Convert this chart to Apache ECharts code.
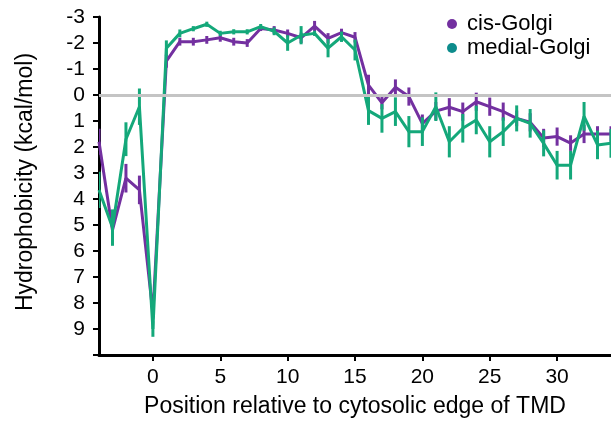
<!DOCTYPE html>
<html>
<head>
<meta charset="utf-8">
<script src="https://cdn.jsdelivr.net/npm/echarts@6/dist/echarts.min.js"></script>
<style>
  html, body { margin: 0; padding: 0; background: #fff; }
  #chart { width: 611px; height: 424px; }
</style>
</head>
<body>
<div id="chart"></div>
<script>
// 位置 -4 .. 34
const positions = [-4, -3, -2, -1, 0, 1, 2, 3, 4, 5, 6, 7, 8, 9, 10, 11, 12, 13, 14, 15, 16, 17, 18, 19, 20, 21, 22, 23, 24, 25, 26, 27, 28, 29, 30, 31, 32, 33, 34];
const cisVal = [1.8, 5.2, 3.2, 3.65, 8.4, -1.3, -2.05, -2.05, -2.12, -2.2, -2.05, -2.0, -2.56, -2.5, -2.37, -2.2, -2.65, -2.18, -2.4, -2.22, -0.38, 0.3, -0.3, 0.06, 1.1, 0.62, 0.47, 0.64, 0.26, 0.45, 0.64, 0.9, 1.05, 1.65, 1.6, 1.85, 1.5, 1.5, 1.5];
const cisErr = [0.5, 0.55, 0.55, 0.55, 0.2, 0.25, 0.15, 0.15, 0.15, 0.15, 0.15, 0.15, 0.1, 0.15, 0.15, 0.2, 0.2, 0.2, 0.15, 0.2, 0.4, 0.25, 0.3, 0.35, 0.35, 0.35, 0.35, 0.35, 0.35, 0.35, 0.35, 0.3, 0.35, 0.35, 0.35, 0.3, 0.35, 0.3, 0.3];
const medVal = [3.65, 5.1, 1.7, 0.45, 9.0, -1.8, -2.37, -2.55, -2.72, -2.37, -2.43, -2.43, -2.63, -2.45, -2.0, -2.3, -2.37, -1.8, -2.24, -1.73, 0.6, 0.9, 0.64, 1.41, 1.41, 0.45, 1.8, 1.28, 0.96, 1.8, 1.41, 0.9, 1.09, 1.86, 2.7, 2.7, 0.82, 1.92, 1.86];
const medErr = [0.7, 0.7, 0.65, 0.7, 0.3, 0.3, 0.15, 0.1, 0.1, 0.1, 0.1, 0.1, 0.1, 0.15, 0.3, 0.35, 0.1, 0.35, 0.2, 0.4, 0.55, 0.55, 0.55, 0.6, 0.55, 0.55, 0.6, 0.55, 0.55, 0.6, 0.55, 0.5, 0.55, 0.5, 0.55, 0.55, 0.55, 0.55, 0.55];
const xTicks = [0, 5, 10, 15, 20, 25, 30];

const purple = "#7330a0";
const green = "#14a87a";
const font = "Liberation Sans";

const toLine = (v) => positions.map((p, k) => [p, v[k]]);
const toErr = (v, e) => positions.map((p, k) => [p, v[k] - e[k], v[k] + e[k]]);

// 误差线
const errBar = (color) => (params, api) => {
  let top = api.coord([api.value(0), api.value(1)]);
  let bot = api.coord([api.value(0), api.value(2)]);
  return {
    type: "line",
    shape: { x1: top[0], y1: top[1], x2: bot[0], y2: bot[1] },
    style: { stroke: color, lineWidth: 3 },
  };
};

let myChart = echarts.init(document.getElementById("chart"));
let option = {
  backgroundColor: "#fff",
  animation: false,
  textStyle: { fontFamily: font },
  grid: { left: 99, top: 17, width: 514, height: 338 },
  legend: {
    orient: "vertical",
    left: 447,
    top: 13,
    padding: 0,
    itemWidth: 10,
    itemHeight: 10,
    itemGap: 2,
    icon: "circle",
    textStyle: { fontSize: 22, color: "#000", fontFamily: font, padding: [0, 0, 0, 5] },
    data: [
      { name: "cis-Golgi", itemStyle: { color: purple } },
      { name: "medial-Golgi", itemStyle: { color: "#0d8c8c" } },
    ],
  },
  xAxis: {
    type: "value",
    min: -4,
    max: 34,
    name: "Position relative to cytosolic edge of TMD",
    nameLocation: "middle",
    nameGap: 40,
    nameTextStyle: { fontSize: 23, color: "#000", fontFamily: font },
    axisLine: { onZero: false, lineStyle: { color: "#000", width: 3 } },
    axisTick: { customValues: xTicks, length: 6, lineStyle: { color: "#000", width: 2 } },
    axisLabel: { customValues: xTicks, fontSize: 21, color: "#000", margin: 12 },
    splitLine: { show: false },
  },
  yAxis: {
    type: "value",
    inverse: true,
    min: -3,
    max: 10,
    interval: 1,
    name: "Hydrophobicity (kcal/mol)",
    nameLocation: "middle",
    nameGap: 62,
    nameTextStyle: { fontSize: 23, color: "#000", fontFamily: font, padding: [0, 0, 0, 8] },
    axisLine: { show: true, onZero: false, lineStyle: { color: "#000", width: 3 } },
    axisTick: { show: true, length: 6, lineStyle: { color: "#000", width: 2 } },
    axisLabel: {
      fontSize: 21,
      color: "#000",
      margin: 14,
      formatter: (v) => (v === 10 ? "" : String(v)),
    },
    splitLine: { show: false },
  },
  series: [
    {
      // 零线
      type: "line",
      data: [],
      z: 1,
      markLine: {
        silent: true,
        symbol: "none",
        label: { show: false },
        lineStyle: { color: "#c4c4c4", width: 3, type: "solid" },
        data: [{ yAxis: 0 }],
      },
    },
    {
      type: "custom",
      name: "cis-Golgi",
      renderItem: errBar(purple),
      data: toErr(cisVal, cisErr),
      z: 3,
      clip: true,
    },
    {
      type: "line",
      name: "cis-Golgi",
      data: toLine(cisVal),
      symbol: "none",
      lineStyle: { color: purple, width: 3 },
      itemStyle: { color: purple },
      z: 3,
    },
    {
      type: "custom",
      name: "medial-Golgi",
      renderItem: errBar(green),
      data: toErr(medVal, medErr),
      z: 4,
      clip: true,
    },
    {
      type: "line",
      name: "medial-Golgi",
      data: toLine(medVal),
      symbol: "none",
      lineStyle: { color: green, width: 3 },
      itemStyle: { color: green },
      z: 4,
    },
  ],
};
myChart.setOption(option);
</script>
</body>
</html>
